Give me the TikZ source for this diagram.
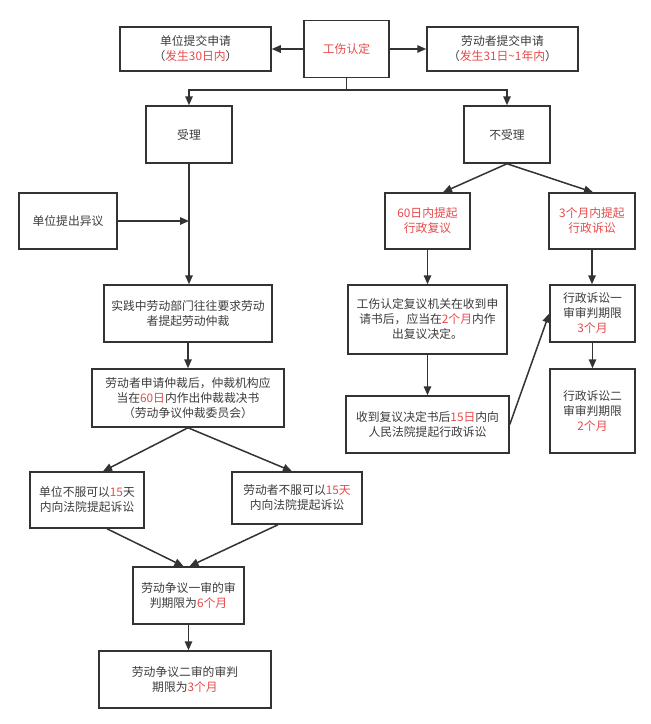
\documentclass[tikz,border=0pt]{standalone}
\usepackage{fontspec}
\setmainfont{Noto Sans CJK SC}
\usetikzlibrary{arrows.meta}
\definecolor{lc}{HTML}{333333}
\definecolor{tc}{HTML}{3C3C3C}
\definecolor{rc}{HTML}{E64B4B}
\newcommand\rd[1]{\textcolor{rc}{#1}}
\begin{document}
\begin{tikzpicture}[x=1pt,y=-1pt,
  box/.style={draw=lc, line width=1.5pt, fill=white, text=tc, align=center, inner sep=0pt, font=\fontsize{11.8}{15}\selectfont},
  arr/.style={draw=lc, line width=1.5pt, -{Triangle[length=9pt,width=7.5pt]}},
  ln/.style={draw=lc, line width=1.5pt}]
\useasboundingbox[fill=white] (0,0) rectangle (651,724);
% top row
\node[box, minimum width=151pt, minimum height=44pt] (u1) at (195.5,49) {单位提交申请\\（\rd{发生30日内}）};
\node[box, minimum width=85pt, minimum height=57pt, text=rc] (gs) at (346.5,49) {工伤认定};
\node[box, minimum width=151pt, minimum height=44pt] (ld) at (502.5,49) {劳动者提交申请\\（\rd{发生31日\textasciitilde 1年内}）};
% second row
\node[box, minimum width=86pt, minimum height=57pt] (sl) at (189,134.5) {受理};
\node[box, minimum width=86pt, minimum height=57pt] (bsl) at (507,134.5) {不受理};
% left branch
\node[box, minimum width=98pt, minimum height=56pt] (yy) at (68,221) {单位提出异议};
\node[box, minimum width=168pt, minimum height=57pt] (sj) at (188,313.5) {实践中劳动部门往往要求劳动\\者提起劳动仲裁};
\node[box, minimum width=192pt, minimum height=58pt] (zc) at (188,398) {劳动者申请仲裁后，仲裁机构应\\当在\rd{60日}内作出仲裁裁决书\\（劳动争议仲裁委员会）};
\node[box, minimum width=114pt, minimum height=56pt] (dbf) at (87,500) {单位不服可以\rd{15}天\\内向法院提起诉讼};
\node[box, minimum width=130pt, minimum height=52pt] (lbf) at (297,498) {劳动者不服可以\rd{15天}\\内向法院提起诉讼};
\node[box, minimum width=111pt, minimum height=57pt] (ys) at (188.5,595.5) {劳动争议一审的审\\判期限为\rd{6个月}};
\node[box, minimum width=172pt, minimum height=57pt] (es) at (185,679.5) {劳动争议二审的审判\\期限为\rd{3个月}};
% right branch
\node[box, minimum width=85pt, minimum height=56pt, text=rc] (fy) at (427.5,221) {60日内提起\\行政复议};
\node[box, minimum width=86pt, minimum height=56pt, text=rc] (ss) at (592,221) {3个月内提起\\行政诉讼};
\node[box, minimum width=159pt, minimum height=69pt] (jg) at (427.5,319.5) {工伤认定复议机关在收到申\\请书后，应当在\rd{2个月}内作\\出复议决定。};
\node[box, minimum width=163pt, minimum height=57pt] (sd) at (427.5,424.5) {收到复议决定书后\rd{15日}内向\\人民法院提起行政诉讼};
\node[box, minimum width=85pt, minimum height=57pt] (xs1) at (592.5,313.5) {行政诉讼一\\审审判期限\\\rd{3个月}};
\node[box, minimum width=85pt, minimum height=84pt] (xs2) at (592.5,411) {行政诉讼二\\审审判期限\\\rd{2个月}};
% connectors
\draw[arr] (gs.west) -- (u1.east);
\draw[arr] (gs.east) -- (ld.west);
\coordinate (br) at (346.5,90);
\draw[ln] (gs.south) -- (br);
\draw[arr] (br) -| (sl.north);
\draw[arr] (br) -| (bsl.north);
\coordinate (j1) at (sl.south |- yy.east);
\draw[arr] (yy.east) -- (j1);
\draw[arr] (sl.south) -- (sl.south |- sj.north);
\draw[arr] (sj.south) -- (zc.north);
\draw[arr] (zc.south) -- ([xshift=16pt]dbf.north);
\draw[arr] (zc.south) -- ([xshift=-5pt]lbf.north);
\draw[arr] ([xshift=20pt]dbf.south) -- ([xshift=-5pt]ys.north);
\draw[arr] ([xshift=-19pt]lbf.south) -- ([xshift=1pt]ys.north);
\draw[arr] (ys.south) -- (ys.south |- es.north);
\draw[arr] (bsl.south) -- ([xshift=15.5pt]fy.north);
\draw[arr] (bsl.south) -- ([xshift=1pt]ss.north);
\draw[arr] (fy.south) -- (jg.north);
\draw[arr] (jg.south) -- (sd.north);
\draw[arr] (sd.east) -- (xs1.west);
\draw[arr] (ss.south) -- (ss.south |- xs1.north);
\draw[arr] (xs1.south) -- (xs2.north);
\end{tikzpicture}
\end{document}
